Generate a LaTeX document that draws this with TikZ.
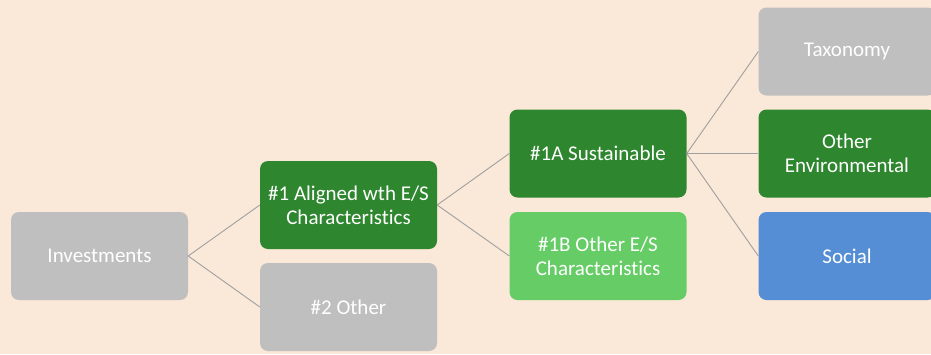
\documentclass[tikz,border=0pt]{standalone}
\usepackage{fontspec}
\setmainfont{Carlito}[Ligatures=CommonOff]
\definecolor{bgBeige}{RGB}{250,232,216}
\definecolor{boxGray}{RGB}{191,191,191}
\definecolor{darkGreen}{RGB}{46,135,46}
\definecolor{lightGreen}{RGB}{102,205,102}
\definecolor{boxBlue}{RGB}{85,142,213}
\definecolor{linkGray}{RGB}{160,160,160}

\begin{document}
\begin{tikzpicture}[
  x=1pt, y=-1pt,
  boxStyle/.style={rounded corners=8pt, minimum width=177pt, minimum height=88pt, inner sep=0pt, align=center, text=white, font=\fontsize{21}{24}\selectfont},
  linkStyle/.style={draw=linkGray, line width=0.9pt}]

\fill [bgBeige] (0, 0) rectangle (931, 354);
\useasboundingbox (0, 0) rectangle (931, 354);

\node [boxStyle, fill=boxGray] (invest) at (99.5, 256) {Investments};
\node [boxStyle, fill=darkGreen] (aligned) at (348.5, 205) {\#1 Aligned wth E/S\\Characteristics};
\node [boxStyle, fill=boxGray] (other) at (348.5, 307) {\#2 Other};
\node [boxStyle, fill=darkGreen] (sustain) at (598, 153.5) {\#1A Sustainable};
\node [boxStyle, fill=lightGreen] (otherES) at (598, 256) {\#1B Other E/S\\Characteristics};
\node [boxStyle, fill=boxGray] (taxonomy) at (847, 51.5) {Taxonomy};
\node [boxStyle, fill=darkGreen] (otherEnv) at (847, 153.5) {Other\\Environmental};
\node [boxStyle, fill=boxBlue] (social) at (847, 256) {Social};

\draw [linkStyle] (invest.east) -- (aligned.west);
\draw [linkStyle] (invest.east) -- (other.west);
\draw [linkStyle] (aligned.east) -- (sustain.west);
\draw [linkStyle] (aligned.east) -- (otherES.west);
\draw [linkStyle] (sustain.east) -- (taxonomy.west);
\draw [linkStyle] (sustain.east) -- (otherEnv.west);
\draw [linkStyle] (sustain.east) -- (social.west);
\end{tikzpicture}
\end{document}
